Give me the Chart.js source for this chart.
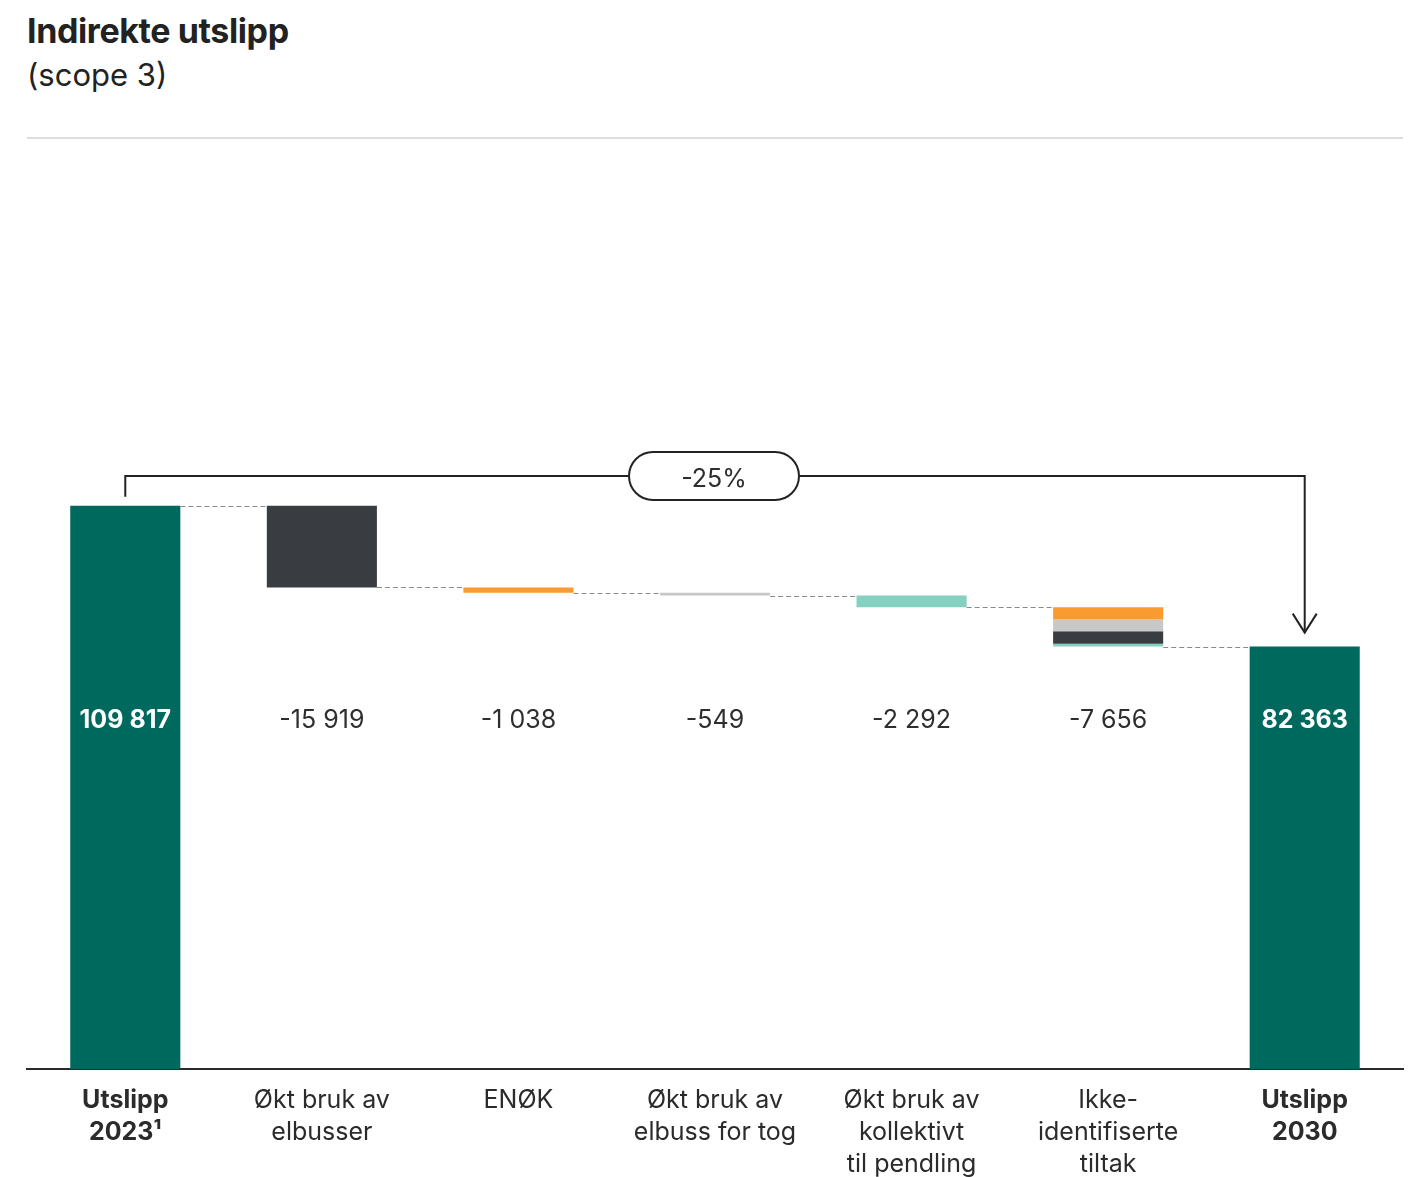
<!DOCTYPE html>
<html lang="no">
<head>
<meta charset="utf-8">
<title>Indirekte utslipp (scope 3)</title>
<script src="https://cdn.jsdelivr.net/npm/chart.js@4.4.1/dist/chart.umd.min.js"></script>
<style>
  html, body { margin: 0; padding: 0; background: #fff; }
  body { width: 1418px; height: 1177px; position: relative; overflow: hidden; font-family: Inter, "Noto Sans", sans-serif; color: #222; }
  .title { position: absolute; left: 27px; top: 10px; font-size: 34px; font-weight: 700; letter-spacing: -0.4px; }
  .subtitle { position: absolute; left: 27px; top: 56px; font-size: 31px; font-weight: 400; }
  .rule { position: absolute; left: 27px; top: 137px; width: 1376px; height: 2px; background: #dedede; }
  #chart { position: absolute; left: 0; top: 0; }
</style>
</head>
<body>
<div class="title">Indirekte utslipp</div>
<div class="subtitle">(scope 3)</div>
<div class="rule"></div>
<canvas id="chart" width="1418" height="1177"></canvas>
<script>
const categories = [
  ['Utslipp', '2023¹'],
  ['Økt bruk av', 'elbusser'],
  'ENØK',
  ['Økt bruk av', 'elbuss for tog'],
  ['Økt bruk av', 'kollektivt', 'til pendling'],
  ['Ikke-', 'identifiserte', 'tiltak'],
  ['Utslipp', '2030']
];
const startValue = 109817;
const changes = [-15919, -1038, -549, -2292, -7656];
const endValue = 82363;
const changeColors = ['#393d42', '#f99b2e', '#c8c8c6', '#84d0c1'];

// split of the unidentified measures, top to bottom
const restParts = [2380, 2290, 2450, 536];
const restColors = ['#f99b2e', '#c8c8c6', '#393d42', '#84d0c1'];

const totalColor = '#00695e';
const yMax = 140000;

// running level after each bar
const levels = [startValue];
changes.forEach(c => levels.push(levels[levels.length - 1] + c));

const fmt = v => (v < 0 ? '-' : '') + Math.abs(v).toString().replace(/\B(?=(\d{3})+(?!\d))/g, ' ');

const empty = () => categories.map(() => null);

const totalsData = empty();
totalsData[0] = [0, startValue];
totalsData[categories.length - 1] = [0, endValue];

const stepData = empty();
const stepColors = categories.map(() => 'transparent');
for (let i = 1; i <= 4; i++) {
  stepData[i] = [levels[i], levels[i - 1]];
  stepColors[i] = changeColors[i - 1];
}

const datasets = [
  { data: totalsData, backgroundColor: totalColor },
  { data: stepData, backgroundColor: stepColors }
];
let segTop = levels[4];
restParts.forEach((p, k) => {
  const d = empty();
  d[5] = [segTop - p, segTop];
  segTop -= p;
  datasets.push({ data: d, backgroundColor: restColors[k] });
});

const waterfallExtras = {
  id: 'waterfallExtras',
  afterDatasetsDraw(chart) {
    const { ctx, chartArea, scales: { x, y } } = chart;
    const barW = chart.getDatasetMeta(0).data[0].width;
    const last = categories.length - 1;

    ctx.save();
    // dashed connectors between bars
    ctx.strokeStyle = '#8a8a8a';
    ctx.lineWidth = 1.2;
    ctx.setLineDash([5, 3]);
    for (let i = 0; i < last; i++) {
      const py = Math.round(y.getPixelForValue(levels[i])) + 0.5;
      ctx.beginPath();
      ctx.moveTo(x.getPixelForValue(i) + barW / 2, py);
      ctx.lineTo(x.getPixelForValue(i + 1) - barW / 2, py);
      ctx.stroke();
    }
    ctx.setLineDash([]);

    // value labels on one row
    const labelY = chartArea.top + 369;
    ctx.textAlign = 'center';
    ctx.textBaseline = 'middle';
    categories.forEach((c, i) => {
      const isTotal = i === 0 || i === last;
      const v = i === 0 ? startValue : i === last ? endValue : changes[i - 1];
      ctx.font = (isTotal ? '700 ' : '400 ') + '25px Inter';
      ctx.fillStyle = isTotal ? '#ffffff' : '#2e2e2e';
      ctx.fillText(fmt(v), x.getPixelForValue(i), labelY);
    });

    // bracket with the total change
    const xL = x.getPixelForValue(0);
    const xR = x.getPixelForValue(last);
    const yBar = y.getPixelForValue(startValue);
    const yLine = Math.round(yBar - 30);
    const yTip = y.getPixelForValue(endValue) - 14;
    ctx.strokeStyle = '#222';
    ctx.lineWidth = 2;
    ctx.beginPath();
    ctx.moveTo(xL, yBar - 9);
    ctx.lineTo(xL, yLine);
    ctx.lineTo(xR, yLine);
    ctx.lineTo(xR, yTip);
    ctx.stroke();
    ctx.beginPath();
    ctx.moveTo(xR - 12, yTip - 19);
    ctx.lineTo(xR, yTip);
    ctx.lineTo(xR + 12, yTip - 19);
    ctx.stroke();

    const pct = Math.round((endValue - startValue) / startValue * 100);
    const cx = (xL + xR) / 2 - 1;
    const pw = 170, ph = 48;
    ctx.beginPath();
    ctx.roundRect(cx - pw / 2, yLine - ph / 2, pw, ph, ph / 2);
    ctx.fillStyle = '#fff';
    ctx.fill();
    ctx.stroke();
    ctx.fillStyle = '#2e2e2e';
    ctx.font = '400 25px Inter';
    ctx.fillText(pct + '%', cx, yLine + 3);
    ctx.restore();
  }
};

new Chart(document.getElementById('chart'), {
  type: 'bar',
  data: { labels: categories, datasets },
  options: {
    responsive: false,
    animation: false,
    layout: { padding: { left: 27, right: 15, top: 351, bottom: 0 } },
    plugins: { legend: { display: false }, tooltip: { enabled: false } },
    datasets: { bar: { grouped: false, barPercentage: 0.56, categoryPercentage: 1 } },
    scales: {
      x: {
        grid: { display: false },
        border: { display: true, color: '#2b2b2b', width: 2 },
        ticks: {
          padding: 7,
          color: '#2b2b2b',
          autoSkip: false,
          maxRotation: 0,
          font: ctx => ({
            family: 'Inter',
            size: 25,
            lineHeight: 1.28,
            weight: (ctx.index === 0 || ctx.index === categories.length - 1) ? '700' : '400'
          })
        },
        afterFit: s => { s.height = 108; }
      },
      y: { display: false, min: 0, max: yMax }
    }
  },
  plugins: [waterfallExtras]
});
</script>
</body>
</html>
